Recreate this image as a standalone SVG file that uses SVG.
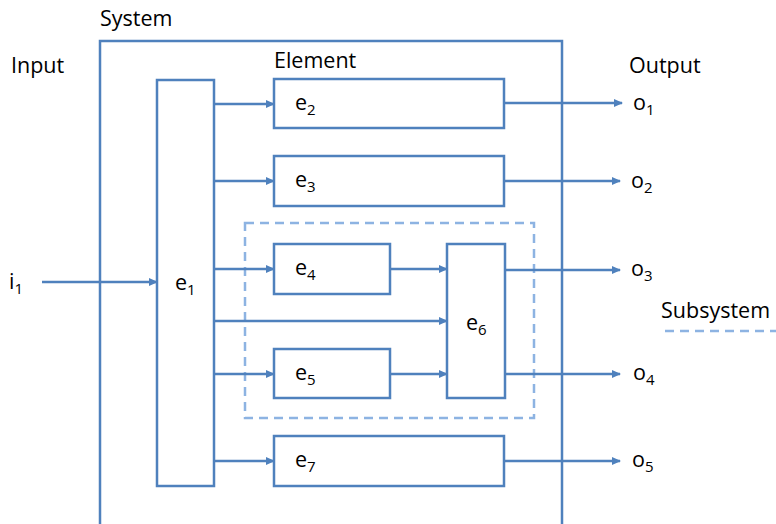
<svg xmlns="http://www.w3.org/2000/svg" width="776" height="524" viewBox="0 0 776 524">
<style>
.box{fill:#fff;stroke:#4f81bd;stroke-width:2.5}
.sys{fill:none;stroke:#4f81bd;stroke-width:2.5}
.sub{fill:none;stroke:#8db3e2;stroke-width:2.5;stroke-dasharray:9 6}
.ln{stroke:#4f81bd;stroke-width:2.5;fill:none;marker-end:url(#ah)}
.t{font-family:"Open Sans","Noto Sans",sans-serif;font-size:21.5px;fill:#000}
.s{font-size:15px}
</style>
<defs>
<marker id="ah" markerWidth="10" markerHeight="8" refX="8" refY="4" orient="auto" markerUnits="userSpaceOnUse">
<path d="M0,0 L9,4 L0,8 Z" fill="#4f81bd"/>
</marker>
</defs>
<g id="system">
<path class="sys" d="M100,526 V41 H562 V526"/>
<text class="t" x="100" y="26">System</text>
</g>
<g id="subsystem">
<rect class="sub" x="245" y="223" width="289" height="195"/>
</g>
<g id="legend">
<text class="t" x="661" y="318">Subsystem</text>
<line class="sub" x1="665" y1="331" x2="776" y2="331"/>
</g>
<g id="labels">
<text class="t" x="11" y="73">Input</text>
<text class="t" x="274" y="68">Element</text>
<text class="t" x="629" y="73">Output</text>
</g>
<g id="connectors">
<line class="ln" x1="42" y1="282" x2="157" y2="282"/>
<line class="ln" x1="214" y1="104" x2="274" y2="104"/>
<line class="ln" x1="214" y1="181" x2="274" y2="181"/>
<line class="ln" x1="214" y1="269" x2="274" y2="269"/>
<line class="ln" x1="214" y1="321" x2="447" y2="321"/>
<line class="ln" x1="214" y1="374" x2="274" y2="374"/>
<line class="ln" x1="214" y1="461" x2="274" y2="461"/>
<line class="ln" x1="390" y1="269" x2="447" y2="269"/>
<line class="ln" x1="390" y1="374" x2="447" y2="374"/>
<line class="ln" x1="504" y1="103" x2="622" y2="103"/>
<line class="ln" x1="504" y1="181" x2="620" y2="181"/>
<line class="ln" x1="505" y1="270" x2="620" y2="270"/>
<line class="ln" x1="505" y1="374" x2="620" y2="374"/>
<line class="ln" x1="504" y1="461" x2="620" y2="461"/>
</g>
<g id="e1"><rect class="box" x="157" y="80" width="57" height="406"/><text class="t" x="175" y="290">e<tspan class="s" dy="5">1</tspan></text></g>
<g id="e2"><rect class="box" x="274" y="79" width="230" height="49"/><text class="t" x="295" y="110">e<tspan class="s" dy="5">2</tspan></text></g>
<g id="e3"><rect class="box" x="274" y="156" width="230" height="50"/><text class="t" x="295" y="187">e<tspan class="s" dy="5">3</tspan></text></g>
<g id="e4"><rect class="box" x="274" y="244" width="116" height="50"/><text class="t" x="295" y="275">e<tspan class="s" dy="5">4</tspan></text></g>
<g id="e5"><rect class="box" x="274" y="349" width="116" height="49"/><text class="t" x="295" y="380">e<tspan class="s" dy="5">5</tspan></text></g>
<g id="e6"><rect class="box" x="447" y="244" width="58" height="154"/><text class="t" x="466" y="330">e<tspan class="s" dy="5">6</tspan></text></g>
<g id="e7"><rect class="box" x="274" y="436" width="230" height="50"/><text class="t" x="295" y="467">e<tspan class="s" dy="5">7</tspan></text></g>
<g id="io">
<text class="t" x="9" y="289">i<tspan class="s" dy="5">1</tspan></text>
<text class="t" x="633" y="110">o<tspan class="s" dy="5">1</tspan></text>
<text class="t" x="631" y="188">o<tspan class="s" dy="5">2</tspan></text>
<text class="t" x="631" y="276">o<tspan class="s" dy="5">3</tspan></text>
<text class="t" x="633" y="380">o<tspan class="s" dy="5">4</tspan></text>
<text class="t" x="632" y="467">o<tspan class="s" dy="5">5</tspan></text>
</g>
</svg>
